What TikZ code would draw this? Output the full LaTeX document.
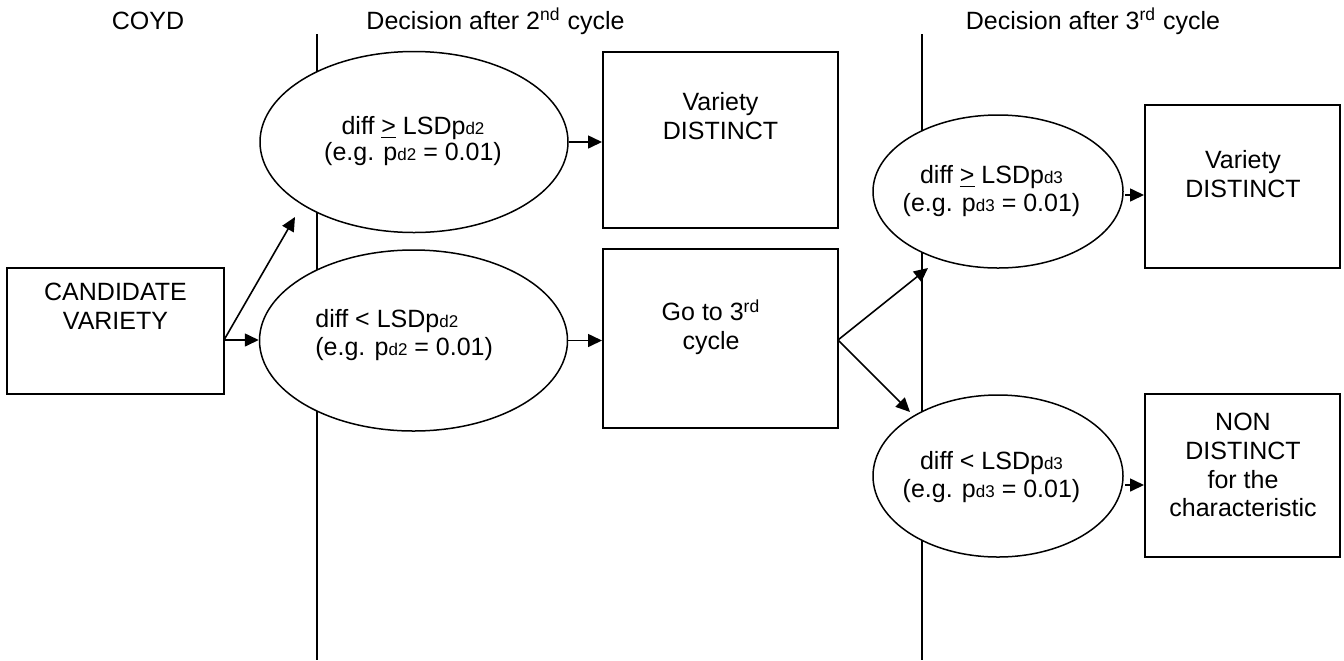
\documentclass[tikz,border=0pt]{standalone}
\usepackage{fontspec}
\setmainfont{Liberation Sans}
\usetikzlibrary{arrows.meta,shapes.geometric}
\newcommand{\sm}[1]{{\fontsize{8.5}{8.5}\selectfont #1}}
\begin{document}
\begin{tikzpicture}[x=0.5pt,y=-0.5pt,
  font=\fontsize{12.5}{14.3}\selectfont,
  box/.style={draw, line width=1pt, rectangle, inner sep=0pt},
  oval/.style={draw, line width=0.75pt, ellipse, fill=white, inner sep=0pt},
  txt/.style={align=center, inner sep=0pt},
  arr/.style={-{Triangle[length=7pt,width=6.5pt]}, line width=0.8pt},
  divider/.style={line width=1pt}]

\useasboundingbox (0,0) rectangle (1344,660);

% headers
\node[anchor=base] (h1) at (148,29) {COYD};
\node[anchor=base] (h2) at (495.5,29) {Decision after 2\textsuperscript{nd} cycle};
\node[anchor=base] (h3) at (1093,29) {Decision after 3\textsuperscript{rd} cycle};

% dividers
\coordinate (d1t) at (317,34); \coordinate (d1b) at (317,660);
\coordinate (d2t) at (922,34); \coordinate (d2b) at (922,660);
\draw[divider] (d1t) -- (d1b);
\draw[divider] (d2t) -- (d2b);

% boxes
\node[box, minimum width=108.5pt, minimum height=63pt] (cand) at (115.5,331) {};
\node[box, minimum width=117.5pt, minimum height=88pt] (b1) at (720.5,140) {};
\node[box, minimum width=117.5pt, minimum height=89.5pt] (b2) at (720.5,338.5) {};
\node[box, minimum width=97.5pt, minimum height=81.5pt] (b3) at (1242.5,186.5) {};
\node[box, minimum width=97.5pt, minimum height=81.5pt] (b4) at (1242.5,475.5) {};

\node[txt, anchor=north] (tcand) at (115.5,283) {CANDIDATE\\VARIETY};
\node[txt, anchor=north] (tb1) at (720.5,92) {Variety\\DISTINCT};
\node[txt, anchor=north] (tb2) at (711,299) {Go to 3\textsuperscript{rd}\\cycle};
\node[txt, anchor=north] (tb3) at (1243,150) {Variety\\DISTINCT};
\node[txt, anchor=north] (tb4) at (1243,413) {NON\\DISTINCT\\for the\\characteristic};

% ellipses
\node[oval, minimum width=154pt, minimum height=90.5pt] (e1) at (414,142) {};
\node[oval, minimum width=154pt, minimum height=90.5pt] (e2) at (413.5,340.5) {};
\node[oval, minimum width=125pt, minimum height=76.5pt] (e3) at (998,191.5) {};
\node[oval, minimum width=125pt, minimum height=81pt] (e4) at (998,476) {};

\node[txt, font=\fontsize{12.5}{13}\selectfont] (te1) at (413,141)
  {diff \underline{>} LSDp\sm{d2}\\(e.g. p\sm{d2} = 0.01)};
\node[txt, align=left, anchor=west] (te2) at (315,335)
  {diff < LSDp\sm{d2}\\(e.g. p\sm{d2} = 0.01)};
\node[txt] (te3) at (991.5,191)
  {diff \underline{>} LSDp\sm{d3}\\(e.g. p\sm{d3} = 0.01)};
\node[txt] (te4) at (991.5,477)
  {diff < LSDp\sm{d3}\\(e.g. p\sm{d3} = 0.01)};

% connector coordinates
\coordinate (cs) at (224,340);
\coordinate (c1) at (295,217);
\coordinate (gs) at (838,340);
\coordinate (g3) at (928,268);
\coordinate (g4) at (910,412);
\coordinate (e3s) at (1125,195);
\coordinate (b3t) at (b3.west |- e3s);
\coordinate (e4s) at (1125,485);
\coordinate (b4t) at (b4.west |- e4s);

% connectors
\draw[arr] (cs) -- (c1);
\draw[arr] (cs) -- (cs -| e2.west);
\draw[arr] (e1.east) -- (e1.east -| b1.west);
\draw[arr] (e2.east) -- (e2.east -| b2.west);
\draw[arr] (gs) -- (g3);
\draw[arr] (gs) -- (g4);
\draw[arr] (e3s) -- (b3t);
\draw[arr] (e4s) -- (b4t);
\end{tikzpicture}
\end{document}
